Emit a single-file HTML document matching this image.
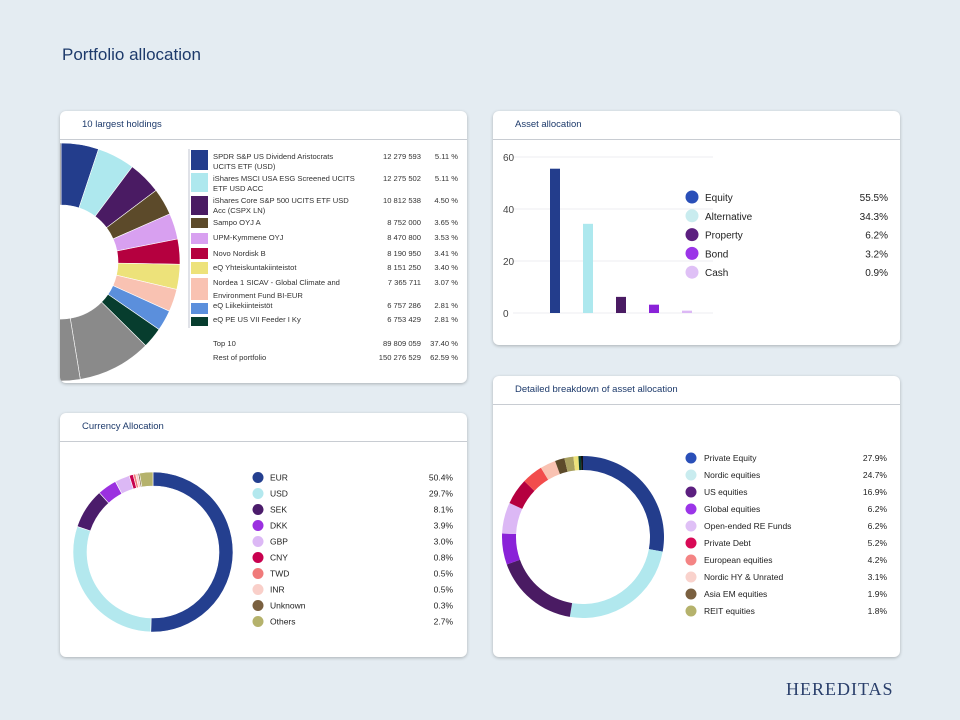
<!DOCTYPE html>
<html><head><meta charset="utf-8">
<style>
body{margin:0;width:960px;height:720px;background:#e4ecf2;font-family:"Liberation Sans",sans-serif;position:relative;overflow:hidden}
.card{position:absolute;background:#fff;border-radius:6px;box-shadow:0 1px 3px rgba(0,0,0,.25);overflow:hidden}
.hdr{position:absolute;left:22px;top:8px;font-size:9.5px;color:#1d3a6b}
.line{position:absolute;left:0;right:0;top:28px;border-top:1px solid #c8ccd2}
svg{position:absolute;left:0;top:0}
text{font-family:"Liberation Sans",sans-serif}
</style></head><body>
<div style="position:absolute;left:62px;top:45px;font-size:17px;color:#1d3a6b">Portfolio allocation</div>
<div style="position:absolute;left:786px;top:679px;font-family:'Liberation Serif',serif;font-size:18px;letter-spacing:1px;color:#2a3f6b">HEREDITAS</div>

<div class="card" style="left:60px;top:111px;width:407px;height:272px">
<div class="hdr" style="top:8px">10 largest holdings</div><div class="line"></div>
<svg id="s1" width="407" height="272"></svg></div>

<div class="card" style="left:493px;top:111px;width:407px;height:234px">
<div class="hdr">Asset allocation</div><div class="line"></div>
<svg id="s2" width="407" height="234"></svg></div>

<div class="card" style="left:60px;top:413px;width:407px;height:244px">
<div class="hdr">Currency Allocation</div><div class="line"></div>
<svg id="s3" width="407" height="244"></svg></div>

<div class="card" style="left:493px;top:376px;width:407px;height:281px">
<div class="hdr">Detailed breakdown of asset allocation</div><div class="line"></div>
<svg id="s4" width="407" height="281"></svg></div>

<script>
const holdNames=[["SPDR S&P US Dividend Aristocrats","UCITS ETF (USD)"],["iShares MSCI USA ESG Screened UCITS","ETF USD ACC"],["iShares Core S&P 500 UCITS ETF USD","Acc (CSPX LN)"],["Sampo OYJ A"],["UPM-Kymmene OYJ"],["Novo Nordisk B"],["eQ Yhteiskuntakiinteistot"],["Nordea 1 SICAV - Global Climate and","Environment Fund BI-EUR"],["eQ Liikekiinteistöt"],["eQ PE US VII Feeder I Ky"]];
const holdValues=["12 279 593","12 275 502","10 812 538","8 752 000","8 470 800","8 190 950","8 151 250","7 365 711","6 757 286","6 753 429"];
const holdPct=[5.11,5.11,4.50,3.65,3.53,3.41,3.40,3.07,2.81,2.81];
const restPct=62.59;
const holdColors=["#233d8c","#aee8ee","#4a1b63","#5c4a2a","#d8a0f0","#b5003f","#ede27a","#f9c2b2","#5b8fdc","#073d2e"];

const assetCats=["Equity","Alternative","Property","Bond","Cash"];
const assetVals=[55.5,34.3,6.2,3.2,0.9];
const assetTicks=[0,20,40,60];
const assetColors=["#233d8c","#ade8ee","#4a1b63","#8a22d8","#dcb8f5"];
const assetDot=["#2a4fb8","#c9ecef","#5c1f80","#9b35e8","#dfc0f6"];

const curCats=["EUR","USD","SEK","DKK","GBP","CNY","TWD","INR","Unknown","Others"];
const curVals=[50.4,29.7,8.1,3.9,3.0,0.8,0.5,0.5,0.3,2.7];
const curColors=["#243f8f","#b3e8ee","#4b1c6b","#9b30e0","#dcb8f5","#c8004f","#f07a7a","#f9cfc9","#7a6040","#b5b26c"];

const detCats=["Private Equity","Nordic equities","US equities","Global equities","Open-ended RE Funds","Private Debt","European equities","Nordic HY & Unrated","Asia EM equities","REIT equities"];
const detVals=[27.9,24.7,16.9,6.2,6.2,5.2,4.2,3.1,1.9,1.8];
const detExtra=[1.0,0.5,0.4];
const detColors=["#233d8c","#b1e8ee","#4a1b63","#8a22d8","#dcb8f5","#b5003f","#f24c4c","#f9c2b2","#5c4a2a","#a8a060","#ede27a","#073d2e","#111"];
const detDot=["#2a4fb8","#c9ecef","#5c1f80","#9b35e8","#dfc0f6","#d80a56","#f48484","#f9d2cc","#7a6040","#b5b26c"];

const NS="http://www.w3.org/2000/svg";
function mk(p,t,a){const e=document.createElementNS(NS,t);for(const k in a)e.setAttribute(k,a[k]);p.appendChild(e);return e;}
function arc(cx,cy,ro,ri,a0,a1){const p=(r,a)=>[cx+r*Math.sin(a),cy-r*Math.cos(a)];const l=(a1-a0)>Math.PI?1:0;
 const [x1,y1]=p(ro,a0),[x2,y2]=p(ro,a1),[x3,y3]=p(ri,a1),[x4,y4]=p(ri,a0);
 return `M${x1},${y1}A${ro},${ro} 0 ${l} 1 ${x2},${y2}L${x3},${y3}A${ri},${ri} 0 ${l} 0 ${x4},${y4}Z`;}
function donut(svg,vals,colors,cx,cy,ro,ri,name,stroke){const tot=vals.reduce((a,b)=>a+b,0);let a=0;
 vals.forEach((v,i)=>{const a1=a+v/tot*2*Math.PI;const e=mk(svg,"path",{d:arc(cx,cy,ro,ri,a,a1),fill:colors[i]||"#888"});
 if(stroke){e.setAttribute("stroke",stroke);e.setAttribute("stroke-width","0.6");}
 
 
 a=a1;});}
function txt(svg,x,y,s,opt){const e=mk(svg,"text",Object.assign({x:x,y:y,"font-size":8,fill:"#333"},opt||{}));e.textContent=s;return e;}

// Card 1
const s1=document.getElementById("s1");
const greyParts=[10,10,10,10,10,10,2.59];
donut(s1,holdPct.concat(greyParts),holdColors.concat(greyParts.map(()=>"#8a8a8a")),1,151,119,57,"holding","#fff");
const rowsY=[[45,55],[67,77],[89,99],[111],[126],[142],[156],[171,184],[194],[208]];
const swY=[[39,60],[62,82],[85,105],[107,118],[122,134],[137,149],[151,164],[167,190],[192,204],[206,216]];
mk(s1,"line",{x1:129,y1:38,x2:129,y2:217,stroke:"#c0c4d0","stroke-width":1});
holdNames.forEach((n,i)=>{
 const r=mk(s1,"rect",{x:131,y:swY[i][0],width:17,height:swY[i][1]-swY[i][0]-1,fill:holdColors[i]});
 
 
 n.forEach((l,j)=>{const t=txt(s1,153,rowsY[i][j]+3,l,{"font-size":7.6});});
 const t1=txt(s1,361,rowsY[i][0]+3,holdValues[i],{"text-anchor":"end","font-size":7.6});
 
 
 const t2=txt(s1,398,rowsY[i][0]+3,holdPct[i].toFixed(2)+" %",{"text-anchor":"end","font-size":7.6});
 
 
});
const top10=holdPct.reduce((a,b)=>a+b,0);
[["Top 10","89 809 059",top10.toFixed(2)+" %",235],["Rest of portfolio","150 276 529",restPct.toFixed(2)+" %",249]].forEach(r=>{
 const a=txt(s1,153,r[3],r[0],{"font-size":7.6});
 const b=txt(s1,361,r[3],r[1],{"text-anchor":"end","font-size":7.6});
 const c=txt(s1,398,r[3],r[2],{"text-anchor":"end","font-size":7.6});});

// Card 2 bar chart
const s2=document.getElementById("s2");
const y0=202,yTop=46,yMax=60;const ys=v=>y0-(v/yMax)*(y0-yTop);
const xs=i=>62+i*33;
assetTicks.forEach(t=>{mk(s2,"line",{x1:20,x2:220,y1:ys(t),y2:ys(t),stroke:"#eceef1","stroke-width":1});
 const e=txt(s2,10,ys(t)+4,String(t),{"font-size":10,"text-anchor":"start",fill:"#444"});
 
 });
assetVals.forEach((v,i)=>{const r=mk(s2,"rect",{x:xs(i)-5,y:ys(v),width:10,height:y0-ys(v),fill:assetColors[i]});
 
 });
assetCats.forEach((c,i)=>{const y=86+i*18.8;
 const d=mk(s2,"circle",{cx:199,cy:y,r:6.5,fill:assetDot[i]});
 const a=txt(s2,212,y+4,c,{"font-size":10,fill:"#222"});
 const b=txt(s2,395,y+4,assetVals[i].toFixed(1)+"%",{"font-size":10,"text-anchor":"end",fill:"#222"});});

// Card 3
const s3=document.getElementById("s3");
donut(s3,curVals,curColors,93,139,80,66,"currency","#fff");
curCats.forEach((c,i)=>{const y=64.5+i*16;
 const d=mk(s3,"circle",{cx:198,cy:y,r:5.5,fill:curColors[i]});
 const a=txt(s3,210,y+3,c,{"font-size":8.5,fill:"#222"});
 const b=txt(s3,393,y+3,curVals[i].toFixed(1)+"%",{"font-size":8.5,"text-anchor":"end",fill:"#222"});});

// Card 4
const s4=document.getElementById("s4");
donut(s4,detVals.concat(detExtra),detColors,90,161,81,67,"breakdown",null);
detCats.forEach((c,i)=>{const y=82+i*17;
 const d=mk(s4,"circle",{cx:198,cy:y,r:5.5,fill:detDot[i]});
 const a=txt(s4,211,y+3,c,{"font-size":8.5,fill:"#222"});
 const b=txt(s4,394,y+3,detVals[i].toFixed(1)+"%",{"font-size":8.5,"text-anchor":"end",fill:"#222"});});
</script>
</body></html>
